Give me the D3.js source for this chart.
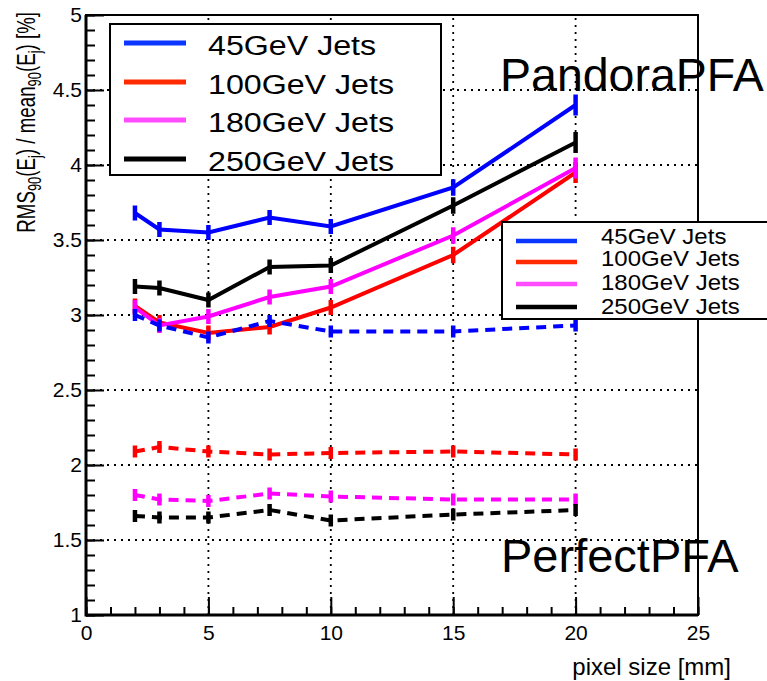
<!DOCTYPE html>
<html>
<head>
<meta charset="utf-8">
<script src="https://cdn.jsdelivr.net/npm/d3@7"></script>
<style>
  body { margin: 0; background: #fff; }
  svg { display: block; font-family: "Liberation Sans", Arial, sans-serif; }
</style>
</head>
<body>
<svg id="chart" width="767" height="681"></svg>
<script>
// pixel size [mm]
const pixelSizes = [2, 3, 5, 7.5, 10, 15, 20];
const jetLabels = ["45GeV Jets", "100GeV Jets", "180GeV Jets", "250GeV Jets"];

// PandoraPFA (solid)
const pandora45  = [3.68, 3.57, 3.55, 3.65, 3.59, 3.85, 4.40];
const pandora100 = [3.06, 2.95, 2.88, 2.92, 3.05, 3.40, 3.95];
const pandora180 = [3.05, 2.93, 2.99, 3.12, 3.19, 3.53, 3.98];
const pandora250 = [3.19, 3.18, 3.10, 3.32, 3.33, 3.73, 4.15];
const pandoraErr = [0.05, 0.05, 0.05, 0.05, 0.05, 0.055, 0.07];

// PerfectPFA (dashed)
const perfect45  = [3.00, 2.93, 2.85, 2.96, 2.89, 2.89, 2.93];
const perfect100 = [2.09, 2.12, 2.09, 2.07, 2.08, 2.09, 2.07];
const perfect180 = [1.80, 1.77, 1.76, 1.81, 1.79, 1.77, 1.77];
const perfect250 = [1.66, 1.65, 1.65, 1.70, 1.63, 1.67, 1.70];
const perfectErr = [0.04, 0.04, 0.04, 0.04, 0.04, 0.04, 0.04];

const xTicks = [0, 5, 10, 15, 20, 25];
const yTicks = [1, 1.5, 2, 2.5, 3, 3.5, 4, 4.5, 5];

const colors = ["#0000ff", "#ff0000", "#ff00ff", "#000000"];
const legendColors = ["#0a36ff", "#ff2a00", "#ff4cff", "#000000"];

const svg = d3.select("#chart");
const plot = { left: 86, right: 698, top: 15, bottom: 615 };

const x = d3.scaleLinear().domain([0, 25]).range([plot.left, plot.right]);
const y = d3.scaleLinear().domain([1, 5]).range([plot.bottom, plot.top]);

// grid
const grid = svg.append("g")
    .attr("stroke", "#000")
    .attr("stroke-width", 1.8)
    .attr("stroke-dasharray", "2,5");
xTicks.filter(d => d > 0 && d < 25).forEach(d => {
    grid.append("line").attr("x1", x(d)).attr("x2", x(d)).attr("y1", plot.bottom).attr("y2", plot.top);
});
yTicks.filter(d => d > 1 && d < 5).forEach(d => {
    grid.append("line").attr("x1", plot.left).attr("x2", plot.right).attr("y1", y(d)).attr("y2", y(d));
});

// graphs
const line = d3.line()
    .x((d, i) => x(pixelSizes[i]))
    .y(d => y(d));

function drawGraph(values, errs, color, dashed) {
    const g = svg.append("g");
    g.append("path")
        .datum(values)
        .attr("d", line)
        .attr("fill", "none")
        .attr("stroke", color)
        .attr("stroke-width", 4)
        .attr("stroke-dasharray", dashed ? "10,7" : null);
    g.selectAll(".err")
        .data(values)
        .join("line")
        .attr("class", "err")
        .attr("x1", (d, i) => x(pixelSizes[i]))
        .attr("x2", (d, i) => x(pixelSizes[i]))
        .attr("y1", (d, i) => y(d - errs[i]))
        .attr("y2", (d, i) => y(d + errs[i]))
        .attr("stroke", color)
        .attr("stroke-width", 4.5);
}

[pandora45, pandora100, pandora180, pandora250].forEach((s, i) => drawGraph(s, pandoraErr, colors[i], false));
[perfect45, perfect100, perfect180, perfect250].forEach((s, i) => drawGraph(s, perfectErr, colors[i], true));

// axes
const minorX = d3.range(0, 26, 1);
const minorY = d3.range(10, 51, 1).map(d => d / 10);

const yAxis = svg.append("g").attr("transform", `translate(${plot.left},0)`);
yAxis.append("g").call(d3.axisLeft(y).tickValues(minorY).tickSize(-9).tickFormat(""));
yAxis.append("g").call(d3.axisLeft(y).tickValues(yTicks).tickSize(-18).tickPadding(4).tickFormat(d3.format("")));

const xAxis = svg.append("g").attr("transform", `translate(0,${plot.bottom})`);
xAxis.append("g").call(d3.axisBottom(x).tickValues(minorX).tickSize(-8).tickFormat(""));
xAxis.append("g").call(d3.axisBottom(x).tickValues(xTicks).tickSize(-18).tickPadding(10).tickFormat(d3.format("")));

svg.selectAll(".domain").remove();
svg.selectAll(".tick line").attr("stroke", "#000").attr("stroke-width", 2);
svg.selectAll(".tick text").attr("font-size", 21).attr("fill", "#000")
    .attr("font-family", "Liberation Sans, Arial, sans-serif");

// frame
svg.append("rect")
    .attr("x", plot.left).attr("y", plot.top)
    .attr("width", plot.right - plot.left).attr("height", plot.bottom - plot.top)
    .attr("fill", "none").attr("stroke", "#000").attr("stroke-width", 2);
svg.append("line").attr("x1", plot.left).attr("x2", plot.left).attr("y1", plot.top).attr("y2", plot.bottom + 1.5)
    .attr("stroke", "#000").attr("stroke-width", 3);
svg.append("line").attr("x1", plot.left).attr("x2", plot.right).attr("y1", plot.bottom).attr("y2", plot.bottom)
    .attr("stroke", "#000").attr("stroke-width", 3);

// axis titles
svg.append("text")
    .attr("x", 731).attr("y", 675)
    .attr("text-anchor", "end")
    .attr("font-size", 24)
    .text("pixel size [mm]");

const yTitle = svg.append("text")
    .attr("transform", "translate(35,12) rotate(-90) scale(0.72,1)")
    .attr("text-anchor", "end")
    .attr("font-size", 26);
yTitle.append("tspan").text("RMS");
yTitle.append("tspan").attr("font-size", 18).attr("dy", 6).text("90");
yTitle.append("tspan").attr("dy", -6).text("(E");
yTitle.append("tspan").attr("font-size", 18).attr("dy", 6).text("j");
yTitle.append("tspan").attr("dy", -6).text(") / mean");
yTitle.append("tspan").attr("font-size", 18).attr("dy", 6).text("90");
yTitle.append("tspan").attr("dy", -6).text("(E");
yTitle.append("tspan").attr("font-size", 18).attr("dy", 6).text("j");
yTitle.append("tspan").attr("dy", -6).text(") [%]");

// legend 1 (PandoraPFA)
const leg1 = svg.append("g");
leg1.append("rect").attr("x", 110).attr("y", 24).attr("width", 331).attr("height", 151)
    .attr("fill", "#fff").attr("stroke", "#000").attr("stroke-width", 2);
const leg1Y = [43, 82, 120, 159];
jetLabels.forEach((lab, i) => {
    leg1.append("line").attr("x1", 124).attr("x2", 186).attr("y1", leg1Y[i]).attr("y2", leg1Y[i])
        .attr("stroke", legendColors[i]).attr("stroke-width", 5);
    leg1.append("text")
        .attr("transform", `translate(208,${leg1Y[i] + 12}) scale(1.15,1)`)
        .attr("font-size", 28)
        .text(lab);
});

// legend 2
const leg2 = svg.append("g");
leg2.append("rect").attr("x", 502).attr("y", 222).attr("width", 280).attr("height", 97)
    .attr("fill", "#fff").attr("stroke", "#000").attr("stroke-width", 2);
const leg2Y = [241, 262, 284, 307];
jetLabels.forEach((lab, i) => {
    leg2.append("line").attr("x1", 516).attr("x2", 577).attr("y1", leg2Y[i]).attr("y2", leg2Y[i])
        .attr("stroke", legendColors[i]).attr("stroke-width", 4.5);
    leg2.append("text")
        .attr("transform", `translate(601,${leg2Y[i] + 3 + i * 1.3}) scale(1.2,1.08)`)
        .attr("font-size", 20)
        .text(lab);
});

// labels
svg.append("text").attr("x", 500).attr("y", 91).attr("font-size", 46.5).text("PandoraPFA");
svg.append("text").attr("x", 501).attr("y", 572).attr("font-size", 47).text("PerfectPFA");
</script>
</body>
</html>
